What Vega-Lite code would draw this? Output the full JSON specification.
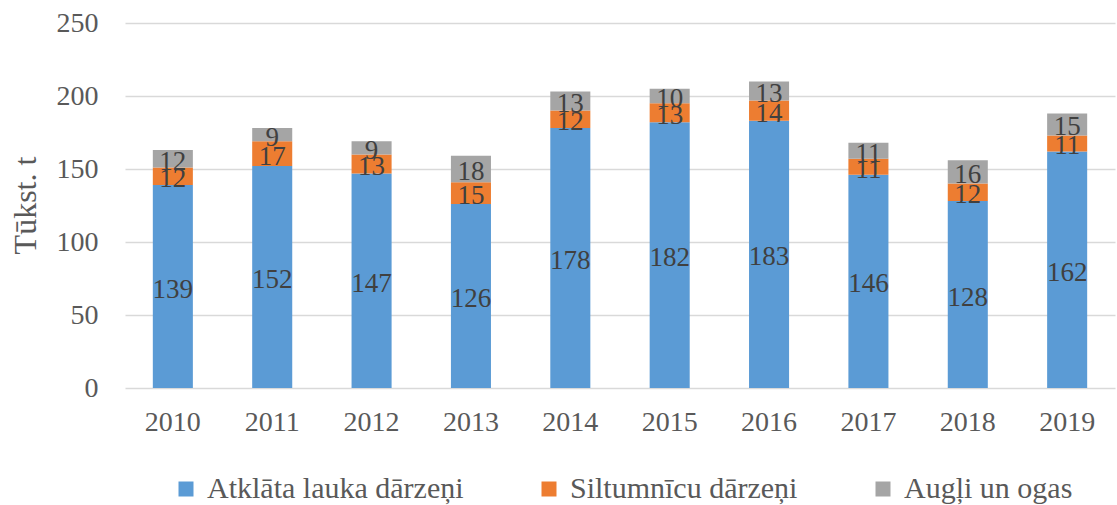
{
  "$schema": "https://vega.github.io/schema/vega-lite/v6.json",
  "width": 990,
  "height": 365,
  "autosize": {"type": "none"},
  "padding": {"left": 125, "top": 23, "right": 2, "bottom": 117},
  "background": "white",
  "config": {
    "font": "Liberation Serif",
    "view": {"stroke": null}
  },
  "data": {
    "values": [
      {"year": "2010", "series": "Atklāta lauka dārzeņi", "ord": 1, "value": 139},
      {"year": "2010", "series": "Siltumnīcu dārzeņi", "ord": 2, "value": 12},
      {"year": "2010", "series": "Augļi un ogas", "ord": 3, "value": 12},
      {"year": "2011", "series": "Atklāta lauka dārzeņi", "ord": 1, "value": 152},
      {"year": "2011", "series": "Siltumnīcu dārzeņi", "ord": 2, "value": 17},
      {"year": "2011", "series": "Augļi un ogas", "ord": 3, "value": 9},
      {"year": "2012", "series": "Atklāta lauka dārzeņi", "ord": 1, "value": 147},
      {"year": "2012", "series": "Siltumnīcu dārzeņi", "ord": 2, "value": 13},
      {"year": "2012", "series": "Augļi un ogas", "ord": 3, "value": 9},
      {"year": "2013", "series": "Atklāta lauka dārzeņi", "ord": 1, "value": 126},
      {"year": "2013", "series": "Siltumnīcu dārzeņi", "ord": 2, "value": 15},
      {"year": "2013", "series": "Augļi un ogas", "ord": 3, "value": 18},
      {"year": "2014", "series": "Atklāta lauka dārzeņi", "ord": 1, "value": 178},
      {"year": "2014", "series": "Siltumnīcu dārzeņi", "ord": 2, "value": 12},
      {"year": "2014", "series": "Augļi un ogas", "ord": 3, "value": 13},
      {"year": "2015", "series": "Atklāta lauka dārzeņi", "ord": 1, "value": 182},
      {"year": "2015", "series": "Siltumnīcu dārzeņi", "ord": 2, "value": 13},
      {"year": "2015", "series": "Augļi un ogas", "ord": 3, "value": 10},
      {"year": "2016", "series": "Atklāta lauka dārzeņi", "ord": 1, "value": 183},
      {"year": "2016", "series": "Siltumnīcu dārzeņi", "ord": 2, "value": 14},
      {"year": "2016", "series": "Augļi un ogas", "ord": 3, "value": 13},
      {"year": "2017", "series": "Atklāta lauka dārzeņi", "ord": 1, "value": 146},
      {"year": "2017", "series": "Siltumnīcu dārzeņi", "ord": 2, "value": 11},
      {"year": "2017", "series": "Augļi un ogas", "ord": 3, "value": 11},
      {"year": "2018", "series": "Atklāta lauka dārzeņi", "ord": 1, "value": 128},
      {"year": "2018", "series": "Siltumnīcu dārzeņi", "ord": 2, "value": 12},
      {"year": "2018", "series": "Augļi un ogas", "ord": 3, "value": 16},
      {"year": "2019", "series": "Atklāta lauka dārzeņi", "ord": 1, "value": 162},
      {"year": "2019", "series": "Siltumnīcu dārzeņi", "ord": 2, "value": 11},
      {"year": "2019", "series": "Augļi un ogas", "ord": 3, "value": 15}
    ]
  },
  "transform": [
    {"stack": "value", "groupby": ["year"], "sort": [{"field": "ord", "order": "ascending"}], "as": ["v0", "v1"]}
  ],
  "encoding": {
    "x": {
      "field": "year",
      "type": "nominal",
      "scale": {"paddingInner": 0.597, "paddingOuter": 0.28},
      "axis": {
        "title": null,
        "labelAngle": 0,
        "labelFont": "Liberation Serif",
        "labelFontSize": 28,
        "labelColor": "#595959",
        "labelPadding": 20,
        "ticks": false,
        "domain": false,
        "grid": false
      }
    }
  },
  "layer": [
    {
      "mark": {"type": "bar"},
      "encoding": {
        "y": {
          "field": "v0",
          "type": "quantitative",
          "scale": {"domain": [0, 250], "nice": false, "zero": true},
          "axis": {
            "title": "Tūkst. t",
            "values": [0, 50, 100, 150, 200, 250],
            "labelFont": "Liberation Serif",
            "labelFontSize": 28,
            "labelColor": "#595959",
            "labelPadding": 27,
            "ticks": false,
            "domain": false,
            "grid": true,
            "gridColor": "#D9D9D9",
            "gridWidth": 1.5,
            "titleFont": "Liberation Serif",
            "titleFontSize": 32,
            "titleFontWeight": "normal",
            "titleColor": "#595959",
            "titleAngle": 270,
            "titleX": -100,
            "titleY": 182,
            "titleAlign": "center",
            "titleBaseline": "middle"
          }
        },
        "y2": {"field": "v1"},
        "color": {
          "field": "series",
          "type": "nominal",
          "sort": ["Atklāta lauka dārzeņi", "Siltumnīcu dārzeņi", "Augļi un ogas"],
          "scale": {
            "domain": ["Atklāta lauka dārzeņi", "Siltumnīcu dārzeņi", "Augļi un ogas"],
            "range": ["#5B9BD5", "#ED7D31", "#A5A5A5"]
          },
          "legend": {
            "title": null,
            "orient": "none",
            "direction": "horizontal",
            "legendX": 46,
            "legendY": 451,
            "symbolType": "square",
            "symbolSize": 225,
            "symbolStrokeWidth": 0,
            "symbolOpacity": 1,
            "labelFont": "Liberation Serif",
            "labelFontSize": 30,
            "labelColor": "#595959",
            "labelOffset": 6,
            "labelLimit": 400,
            "columnPadding": 70
          }
        }
      }
    },
    {
      "transform": [
        {"fold": ["v0", "v1"], "as": ["edge", "pos"]},
        {"aggregate": [{"op": "mean", "field": "pos", "as": "mid"}], "groupby": ["year", "series", "value"]}
      ],
      "mark": {
        "type": "text",
        "font": "Liberation Serif",
        "fontSize": 27,
        "color": "#404040",
        "baseline": "middle",
        "align": "center",
        "dy": 3
      },
      "encoding": {
        "y": {"field": "mid", "type": "quantitative", "scale": {"domain": [0, 250], "nice": false, "zero": true}},
        "text": {"field": "value", "type": "quantitative"}
      }
    }
  ]
}
